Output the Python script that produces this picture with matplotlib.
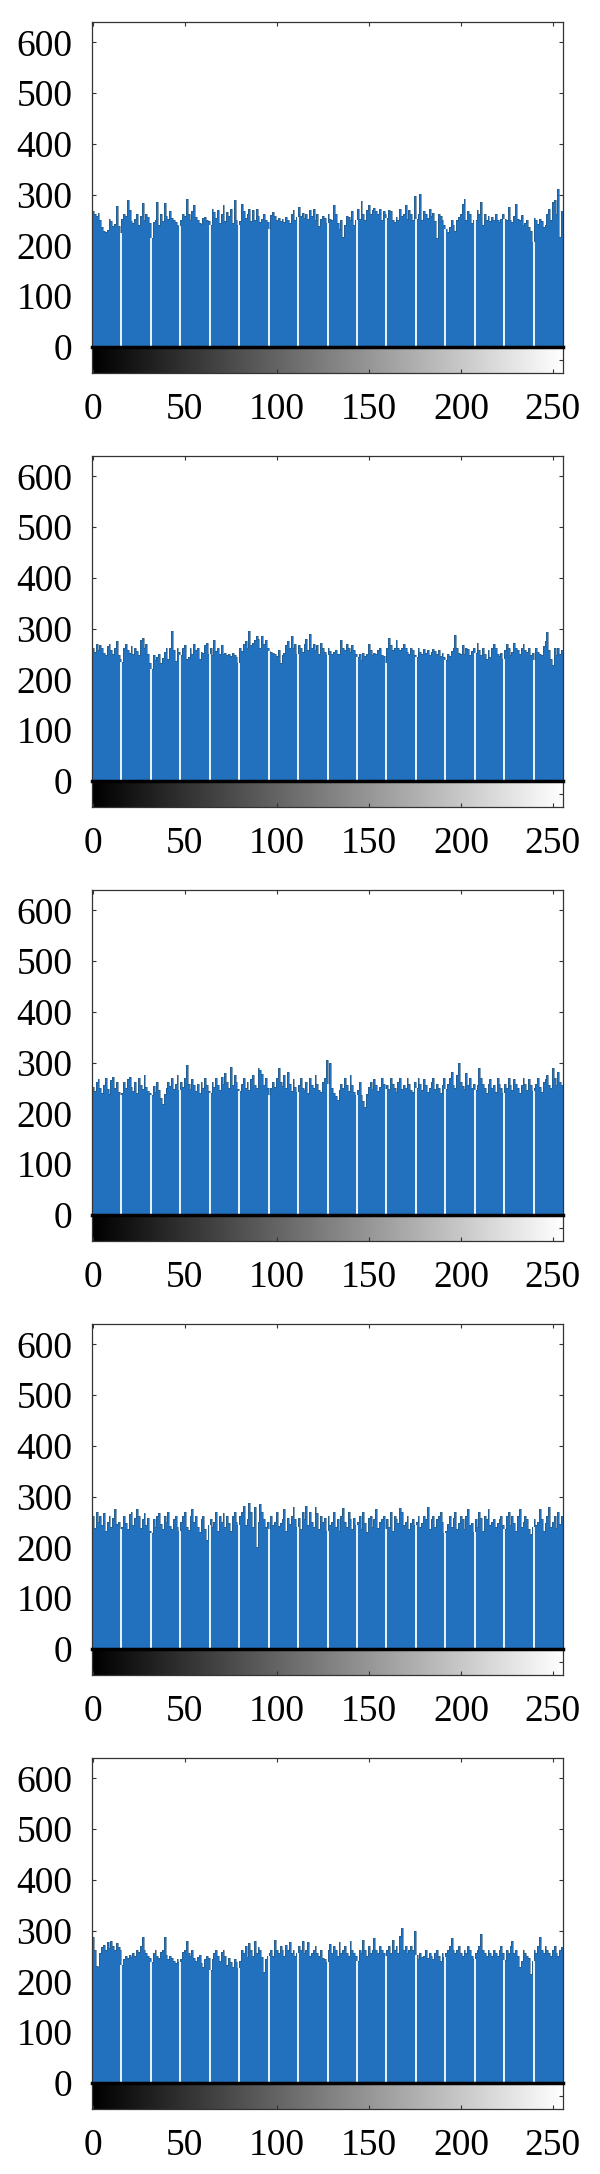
import numpy as np
import matplotlib
matplotlib.use("Agg")
import matplotlib.pyplot as plt

# ---------------- data: 256-bin gray-level histograms (5 images) ----------------
bins = list(range(256))

hist_1 = [
    268, 262, 258, 264, 250, 236, 228, 226, 230, 252, 248, 238, 242, 278, 238, 225,
    252, 262, 258, 290, 270, 248, 244, 252, 262, 240, 258, 284, 250, 262, 256, 245,
    214, 246, 250, 285, 240, 262, 248, 284, 258, 252, 268, 255, 250, 246, 240, 238,
    250, 262, 258, 292, 262, 250, 268, 280, 256, 250, 244, 242, 255, 256, 250, 248,
    240, 272, 265, 255, 270, 245, 262, 280, 248, 265, 258, 272, 245, 290, 250, 240,
    248, 282, 268, 255, 262, 272, 248, 270, 250, 272, 258, 246, 252, 262, 250, 246,
    232, 260, 265, 258, 250, 255, 248, 252, 246, 256, 250, 245, 262, 270, 250, 256,
    275, 258, 264, 255, 262, 252, 270, 258, 272, 250, 262, 238, 252, 258, 255, 245,
    262, 252, 250, 280, 262, 245, 232, 250, 216, 240, 258, 256, 250, 268, 240, 250,
    272, 252, 288, 262, 250, 270, 280, 262, 270, 274, 268, 262, 272, 250, 268, 262,
    255, 270, 268, 250, 246, 256, 250, 272, 258, 262, 280, 252, 270, 262, 250, 298,
    252, 262, 301, 250, 268, 262, 255, 272, 258, 264, 248, 215, 262, 258, 250, 240,
    232, 226, 236, 250, 240, 228, 250, 256, 262, 282, 292, 250, 268, 262, 245, 250,
    250, 270, 262, 285, 240, 262, 250, 258, 248, 256, 250, 262, 250, 246, 252, 262,
    252, 250, 275, 250, 246, 258, 282, 252, 250, 260, 240, 245, 250, 236, 228, 206,
    255, 250, 242, 252, 248, 236, 240, 262, 272, 250, 285, 290, 262, 311, 216, 268,
]

hist_2 = [
    262, 255, 270, 258, 268, 262, 252, 248, 265, 270, 258, 250, 262, 276, 248, 240,
    235, 262, 270, 258, 252, 266, 250, 262, 256, 248, 278, 282, 262, 270, 250, 232,
    220, 248, 238, 245, 250, 232, 242, 255, 262, 240, 262, 295, 258, 236, 262, 255,
    248, 262, 268, 240, 245, 262, 250, 270, 258, 262, 240, 255, 252, 268, 272, 250,
    262, 248, 278, 256, 262, 250, 268, 250, 252, 248, 250, 246, 252, 248, 244, 232,
    262, 256, 270, 275, 262, 296, 268, 272, 278, 286, 280, 262, 286, 270, 278, 262,
    256, 255, 252, 250, 246, 258, 232, 248, 252, 268, 275, 262, 285, 262, 270, 250,
    268, 262, 255, 270, 280, 258, 290, 262, 270, 258, 268, 250, 272, 262, 255, 248,
    262, 256, 250, 255, 258, 250, 250, 278, 262, 258, 270, 262, 255, 268, 258, 250,
    245, 250, 238, 252, 246, 250, 270, 258, 248, 252, 250, 258, 262, 248, 246, 232,
    262, 282, 268, 258, 262, 278, 262, 258, 262, 270, 262, 255, 250, 262, 258, 248,
    245, 262, 255, 250, 260, 252, 258, 248, 255, 260, 256, 250, 258, 246, 252, 245,
    238, 250, 246, 256, 262, 287, 262, 252, 250, 268, 250, 262, 260, 248, 256, 262,
    252, 272, 258, 248, 262, 250, 240, 258, 245, 262, 270, 262, 250, 246, 252, 240,
    258, 270, 262, 248, 255, 272, 262, 258, 250, 262, 270, 258, 255, 262, 248, 252,
    238, 262, 255, 250, 248, 265, 275, 294, 258, 240, 228, 262, 248, 262, 250, 258,
]

hist_3 = [
    252, 244, 262, 268, 250, 240, 256, 270, 248, 238, 265, 272, 250, 262, 242, 236,
    240, 262, 250, 268, 272, 252, 244, 262, 240, 270, 256, 248, 276, 252, 244, 240,
    236, 255, 242, 262, 246, 230, 218, 238, 250, 262, 254, 270, 248, 258, 275, 246,
    262, 252, 270, 295, 258, 248, 268, 256, 244, 258, 240, 262, 250, 270, 256, 244,
    240, 262, 252, 270, 256, 246, 272, 258, 280, 262, 250, 292, 256, 275, 262, 248,
    244, 258, 270, 250, 262, 246, 268, 275, 256, 250, 290, 286, 278, 256, 270, 250,
    236, 250, 262, 252, 270, 290, 262, 254, 275, 250, 282, 258, 244, 268, 252, 242,
    256, 270, 250, 246, 262, 240, 270, 256, 250, 275, 258, 246, 242, 262, 270, 305,
    258, 300, 250, 240, 234, 226, 246, 258, 250, 270, 256, 244, 275, 256, 242, 236,
    246, 262, 236, 224, 212, 238, 252, 262, 248, 268, 256, 244, 252, 270, 258, 248,
    256, 248, 270, 258, 250, 242, 262, 270, 248, 256, 250, 270, 258, 246, 242, 262,
    250, 270, 258, 246, 268, 256, 242, 250, 262, 270, 248, 258, 250, 240, 256, 270,
    248, 258, 270, 282, 256, 250, 275, 300, 262, 254, 248, 280, 256, 270, 250, 258,
    246, 256, 290, 270, 258, 250, 240, 258, 268, 250, 256, 242, 270, 258, 250, 240,
    258, 250, 270, 256, 246, 268, 258, 250, 240, 256, 270, 258, 246, 268, 256, 244,
    250, 258, 270, 252, 242, 262, 268, 275, 256, 250, 290, 270, 256, 282, 262, 256,
]

hist_4 = [
    262, 238, 270, 250, 262, 244, 268, 232, 250, 262, 240, 258, 275, 246, 250, 236,
    240, 262, 248, 236, 266, 270, 244, 258, 275, 262, 238, 256, 268, 244, 258, 232,
    228, 256, 240, 262, 268, 246, 236, 262, 250, 270, 242, 236, 256, 262, 240, 232,
    250, 262, 270, 240, 234, 262, 276, 250, 262, 240, 230, 256, 262, 236, 214, 244,
    256, 240, 250, 270, 232, 262, 250, 268, 240, 262, 248, 232, 262, 270, 250, 244,
    262, 270, 282, 244, 256, 288, 270, 240, 280, 201, 250, 285, 270, 256, 240, 250,
    236, 262, 244, 250, 270, 242, 248, 256, 276, 232, 258, 246, 262, 280, 256, 240,
    258, 236, 270, 256, 282, 244, 270, 250, 240, 280, 268, 236, 262, 250, 258, 232,
    262, 244, 250, 270, 240, 256, 232, 262, 278, 250, 240, 270, 256, 236, 258, 244,
    250, 262, 236, 270, 248, 230, 258, 262, 240, 256, 275, 238, 250, 256, 262, 236,
    256, 240, 270, 232, 262, 256, 248, 278, 270, 244, 250, 262, 236, 248, 256, 244,
    250, 262, 240, 248, 262, 256, 280, 236, 256, 262, 240, 256, 262, 270, 250, 228,
    232, 246, 262, 240, 258, 270, 236, 248, 262, 256, 236, 262, 275, 244, 248, 230,
    256, 240, 270, 258, 232, 262, 256, 276, 244, 250, 256, 240, 248, 256, 262, 244,
    236, 262, 270, 244, 262, 248, 232, 262, 275, 240, 250, 262, 256, 236, 226, 240,
    256, 244, 250, 276, 256, 232, 248, 262, 280, 240, 250, 262, 238, 270, 246, 262,
]

hist_5 = [
    287, 262, 231, 228, 256, 268, 272, 262, 278, 266, 280, 270, 262, 276, 268, 262,
    232, 244, 250, 246, 252, 248, 256, 250, 262, 258, 270, 288, 262, 256, 250, 246,
    238, 256, 262, 250, 246, 258, 262, 288, 252, 244, 250, 246, 240, 236, 244, 238,
    244, 258, 262, 280, 256, 250, 262, 246, 240, 248, 252, 236, 228, 244, 250, 246,
    222, 244, 256, 262, 250, 240, 258, 262, 250, 232, 246, 238, 228, 244, 238, 226,
    240, 262, 256, 270, 248, 276, 262, 250, 280, 256, 268, 262, 248, 219, 244, 250,
    256, 262, 250, 282, 262, 256, 270, 262, 250, 272, 262, 278, 256, 262, 250, 256,
    270, 262, 280, 256, 262, 278, 250, 256, 262, 270, 256, 250, 262, 246, 244, 238,
    262, 274, 256, 270, 262, 250, 278, 256, 262, 270, 256, 250, 280, 262, 256, 250,
    240, 262, 256, 282, 262, 250, 270, 256, 262, 285, 262, 256, 270, 262, 256, 250,
    262, 270, 256, 282, 262, 270, 256, 290, 305, 262, 270, 256, 262, 270, 262, 300,
    252, 244, 256, 248, 250, 262, 246, 256, 250, 244, 256, 262, 250, 240, 256, 248,
    256, 262, 270, 285, 262, 256, 262, 270, 256, 250, 262, 256, 270, 262, 250, 244,
    256, 262, 270, 294, 262, 256, 250, 262, 256, 250, 262, 256, 250, 262, 270, 256,
    242, 262, 256, 270, 280, 256, 262, 250, 228, 240, 262, 256, 250, 246, 215, 240,
    262, 256, 270, 288, 262, 256, 270, 262, 256, 250, 262, 270, 256, 250, 262, 268,
]

histograms = [hist_1, hist_2, hist_3, hist_4, hist_5]
x_ticks = [0, 50, 100, 150, 200, 250]
y_ticks = [0, 100, 200, 300, 400, 500, 600]

for h in histograms:
    assert len(h) == 256

# ---------------- figure ----------------
W, H = 600, 2174
fig = plt.figure(figsize=(W / 100, H / 100), dpi=100)
fig.patch.set_facecolor("white")

font = dict(family=["Liberation Serif", "DejaVu Serif"], size=27)
bar_color = "#2171be"
spine_color = "#333333"

left, right = 92, 563
pitch = 434
for k, counts in enumerate(histograms):
    top = 22 + pitch * k
    base = 347 + pitch * k
    cbot = 373 + pitch * k
    ax = fig.add_axes([left / W, 1 - base / H, (right - left) / W, (base - top) / H])
    cax = fig.add_axes([left / W, 1 - cbot / H, (right - left) / W, (cbot - base) / H])

    c = np.asarray(counts, dtype=float)
    b = np.asarray(bins, dtype=float)
    ax.bar(b, c, width=1.0, color=bar_color, edgecolor="none", zorder=2)
    ax.step(b, c, where="mid", color="#24506e", lw=0.5, alpha=0.75, zorder=3)
    # rendering gaps visible every 16 bins
    gi = np.arange(15, 240, 16)
    ax.vlines(b[gi] + 0.5, 0, np.minimum(c[gi], c[gi + 1]), color="white", lw=1.3, zorder=4)

    ax.set_xlim(-0.5, 255.5)
    ax.set_ylim(0, 640)
    ax.set_xticks(x_ticks)
    ax.set_xticklabels([])
    ax.set_yticks(y_ticks)
    ax.set_yticklabels([str(v) for v in y_ticks], **font)
    ax.tick_params(axis="both", direction="in", length=3, width=0.8, color=spine_color,
                   top=True, right=True, bottom=True, left=True, pad=14)
    for s in ax.spines.values():
        s.set_color(spine_color)
        s.set_linewidth(0.9)
    ax.spines["bottom"].set_visible(False)

    grad = np.linspace(0, 1, 256)[None, :]
    cax.imshow(grad, cmap="gray", aspect="auto", extent=(-0.5, 255.5, 0, 1), vmin=0, vmax=1)
    cax.set_xlim(-0.5, 255.5)
    cax.set_ylim(0, 1)
    cax.set_xticks(x_ticks)
    cax.set_xticklabels([str(v) for v in x_ticks], **font)
    cax.set_yticks([0.5])
    cax.set_yticklabels([])
    cax.tick_params(axis="x", direction="in", length=3, width=0.8, color=spine_color, pad=14)
    cax.tick_params(axis="y", direction="in", length=3, width=0.8, color=spine_color,
                    left=False, right=True)
    for s in cax.spines.values():
        s.set_color(spine_color)
        s.set_linewidth(0.9)
    cax.spines["top"].set_color("black")
    cax.spines["top"].set_linewidth(2.5)

fig.savefig("out.png", dpi=100, facecolor="white")
